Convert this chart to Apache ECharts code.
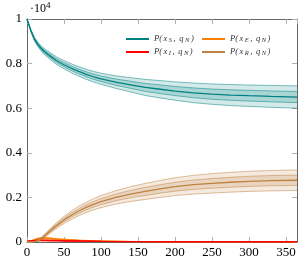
<!DOCTYPE html>
<html>
<head>
<meta charset="utf-8">
<script src="https://cdn.jsdelivr.net/npm/echarts@6/dist/echarts.min.js"></script>
<style>html,body{margin:0;padding:0;background:#fff}#c{width:301px;height:261px}</style>
</head>
<body>
<div id="c"></div>
<script>
// time (days)
const T = [0,5,10,15,20,25,30,40,50,60,70,80,90,100,120,140,160,180,200,225,250,275,300,330,365];
// means (counts) and spread (one sd)
const S_mean = [10000,9500,9100,8850,8650,8500,8370,8130,7950,7790,7650,7520,7410,7320,7170,7050,6930,6850,6770,6690,6630,6590,6560,6530,6500];
const S_sd   = [0,25,40,50,60,68,75,85,92,100,106,112,118,125,140,160,180,195,205,220,228,235,240,245,250];
const E_mean = [0,40,100,150,170,170,160,130,110,90,70,60,50,40,30,20,15,10,8,6,5,4,3,3,3];
const E_sd   = [0,5,10,15,18,18,17,15,12,10,8,7,6,5,4,3,2,2,1,1,1,1,1,1,1];
const I_mean = [30,50,60,70,70,70,65,60,50,45,40,35,30,25,20,17,15,12,10,8,6,5,4,3,3];
const I_sd   = [0,5,8,10,10,10,10,9,8,7,6,5,4,4,3,3,2,2,2,1,1,1,1,1,1];
const R_mean = [0,0,10,60,170,310,460,740,990,1200,1390,1550,1690,1810,2000,2150,2270,2380,2480,2570,2630,2680,2720,2750,2770];
const R_sd   = [0,0,5,15,30,40,50,65,80,95,105,115,125,135,150,165,180,190,200,210,218,222,226,228,230];
const xTicks = {min:0, max:365, interval:50};
const yTicks = {min:0, max:10000, interval:2000};

const FONT = 'Liberation Serif';
const vars = [
  {key:'E', mean:E_mean, sd:E_sd, color:'rgb(255,128,0)', rgb:'255,128,0'},
  {key:'I', mean:I_mean, sd:I_sd, color:'rgb(255,0,0)', rgb:'255,0,0'},
  {key:'R', mean:R_mean, sd:R_sd, color:'rgb(191,128,64)', rgb:'191,128,64'},
  {key:'S', mean:S_mean, sd:S_sd, color:'rgb(0,128,128)', rgb:'0,128,128'}
];

function bound(mean, sd, k){ return mean.map((m,i)=>Math.max(0, m + k*sd[i])); }
function pairs(arr){ return T.map((t,i)=>[t, arr[i]]); }

function band(lo, hi, fill, z){
  return {
    type:'custom', silent:true, clip:true, z:z, animation:false,
    data:[[0,0]],
    renderItem:function(params, api){
      const pts=[];
      for(let i=0;i<T.length;i++) pts.push(api.coord([T[i], lo[i]]));
      for(let i=T.length-1;i>=0;i--) pts.push(api.coord([T[i], hi[i]]));
      return {type:'polygon', shape:{points:pts}, style:{fill:fill, stroke:null}};
    }
  };
}
function line(name, arr, color, width, z){
  return {type:'line', name:name, data:pairs(arr), symbol:'none', showSymbol:false,
    lineStyle:{color:color, width:width}, itemStyle:{color:color}, z:z, animation:false, clip:true, silent:true};
}

const series=[];
vars.forEach((v,vi)=>{
  const lo2=bound(v.mean,v.sd,-2), hi2=bound(v.mean,v.sd,2);
  const lo1=bound(v.mean,v.sd,-1), hi1=bound(v.mean,v.sd,1);
  const zb = 2+vi*3;
  series.push(band(lo2,hi2,'rgba('+v.rgb+',0.17)', zb));
  series.push(band(lo1,hi1,'rgba('+v.rgb+',0.2)', zb));
  [lo2,lo1,hi1,hi2].forEach((b,j)=>series.push(line(v.key+'_b'+j, b, 'rgba('+v.rgb+',0.85)', 0.6, zb+1)));
  series.push(line(v.key, v.mean, v.color, 1.3, zb+2));
});

const labels = {
  S:'{n|P(}{i|x}{s|S}{n|, }{i|q}{s|N}{n|)}',
  E:'{n|P(}{i|x}{s|E}{n|, }{i|q}{s|N}{n|)}',
  I:'{n|P(}{i|x}{s|I}{n|, }{i|q}{s|N}{n|)}',
  R:'{n|P(}{i|x}{s|R}{n|, }{i|q}{s|N}{n|)}'
};

const axisLineStyle = {color:'#666', width:1};
const tickStyle = {color:'#b0b0b0', width:1};
const option = {
  backgroundColor:'#fff',
  animation:false,
  grid:{left:27, right:4, top:19, bottom:19, containLabel:false},
  xAxis:[
    {type:'value', min:xTicks.min, max:xTicks.max, interval:xTicks.interval, position:'bottom',
     axisLine:{show:true, onZero:false, lineStyle:axisLineStyle},
     axisTick:{show:true, inside:true, length:5, lineStyle:tickStyle},
     axisLabel:{showMaxLabel:false, fontFamily:FONT, fontSize:13, color:'#000', margin:4},
     splitLine:{show:false}},
    {type:'value', min:xTicks.min, max:xTicks.max, interval:xTicks.interval, position:'top',
     axisLine:{show:true, onZero:false, lineStyle:axisLineStyle},
     axisTick:{show:true, inside:true, length:5, lineStyle:tickStyle},
     axisLabel:{show:false}, splitLine:{show:false}}
  ],
  yAxis:[
    {type:'value', min:yTicks.min, max:yTicks.max, interval:yTicks.interval, position:'left',
     axisLine:{show:true, onZero:false, lineStyle:axisLineStyle},
     axisTick:{show:true, inside:true, length:5, lineStyle:tickStyle},
     axisLabel:{fontFamily:FONT, fontSize:13, color:'#000', margin:5,
       formatter:function(v){ return String(+(v/10000).toFixed(1)); }},
     splitLine:{show:false}},
    {type:'value', min:yTicks.min, max:yTicks.max, interval:yTicks.interval, position:'right',
     axisLine:{show:true, onZero:false, lineStyle:axisLineStyle},
     axisTick:{show:true, inside:true, length:5, lineStyle:tickStyle},
     axisLabel:{show:false}, splitLine:{show:false}}
  ],
  legend:{
    data:['S','E','I','R'], left:126, top:34, width:160, orient:'horizontal',
    icon:'rect', itemWidth:23, itemHeight:2, itemGap:3, padding:0,
    formatter:function(n){ return labels[n]; },
    textStyle:{width:45, lineHeight:10, padding:0,
      rich:{
        n:{fontFamily:FONT, fontSize:8.5, color:'#333', fontStyle:'italic', lineHeight:10, verticalAlign:'middle'},
        i:{fontFamily:FONT, fontSize:8.5, color:'#333', fontStyle:'italic', lineHeight:10, verticalAlign:'middle', padding:[0,1.5,0,1.5]},
        s:{fontFamily:FONT, fontSize:6.5, color:'#333', fontStyle:'italic', lineHeight:10, verticalAlign:'bottom', padding:[0,1.5,0,0]}
      }}
  },
  graphic:[{type:'text', left:30, top:1, style:{
    text:'{a|·10}{b|4}', rich:{a:{fontFamily:FONT, fontSize:12, fill:'#000'},
      b:{fontFamily:FONT, fontSize:9, fill:'#000', padding:[0,0,6,0]}}}}],
  series:series
};
const chart = echarts.init(document.getElementById('c'), null, {renderer:'canvas'});
chart.setOption(option);
</script>
</body>
</html>
